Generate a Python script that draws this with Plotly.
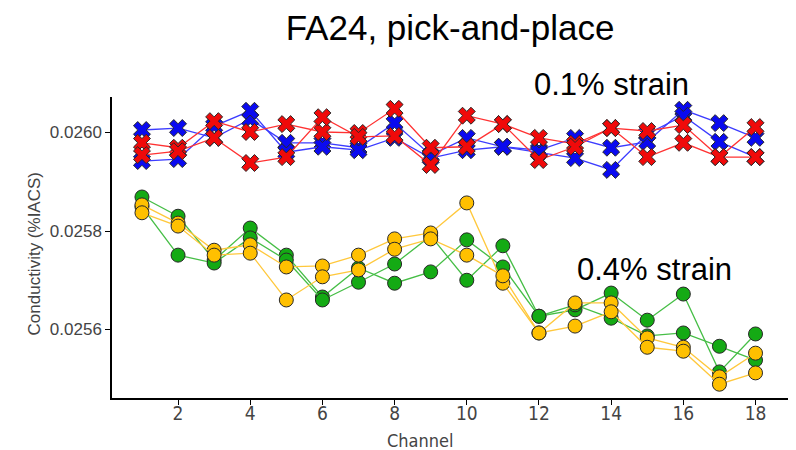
import plotly.graph_objects as go

channels = list(range(1, 19))

blue_1 = [0.026005, 0.026009, 0.025989, 0.026027, 0.025979, 0.025979, 0.025969, 0.026019, 0.025954,
          0.025989, 0.025971, 0.025964, 0.025989, 0.025969, 0.025981, 0.026046, 0.026019, 0.025989]
blue_2 = [0.025942, 0.025946, 0.026013, 0.026044, 0.025960, 0.025971, 0.025964, 0.025989, 0.025948,
          0.025964, 0.025971, 0.025960, 0.025948, 0.025924, 0.025997, 0.026034, 0.025981, 0.025950]
red_1 = [0.025979, 0.025969, 0.026023, 0.026001, 0.026017, 0.026001, 0.025999, 0.026048, 0.025969,
         0.025971, 0.026017, 0.025989, 0.025977, 0.026009, 0.026003, 0.026015, 0.025950, 0.026011]
red_2 = [0.025954, 0.025962, 0.025989, 0.025938, 0.025950, 0.026031, 0.025991, 0.025993, 0.025934,
         0.026034, 0.026017, 0.025944, 0.025971, 0.026009, 0.025950, 0.025979, 0.025950, 0.025950]
green_1 = [0.025869, 0.025830, 0.025741, 0.025806, 0.025751, 0.025666, 0.025725, 0.025694, 0.025717,
           0.025782, 0.025727, 0.025627, 0.025640, 0.025674, 0.025619, 0.025672, 0.025514, 0.025591]
green_2 = [0.025849, 0.025751, 0.025735, 0.025786, 0.025741, 0.025660, 0.025696, 0.025733, 0.025790,
           0.025700, 0.025770, 0.025627, 0.025650, 0.025623, 0.025587, 0.025593, 0.025566, 0.025538]
yellow_1 = [0.025853, 0.025816, 0.025761, 0.025772, 0.025727, 0.025729, 0.025751, 0.025784, 0.025796,
            0.025857, 0.025694, 0.025593, 0.025654, 0.025654, 0.025583, 0.025564, 0.025504, 0.025552]
yellow_2 = [0.025837, 0.025810, 0.025751, 0.025755, 0.025660, 0.025707, 0.025721, 0.025763, 0.025784,
            0.025751, 0.025709, 0.025593, 0.025607, 0.025636, 0.025564, 0.025556, 0.025489, 0.025512]

x_ticks = [2, 4, 6, 8, 10, 12, 14, 16, 18]
y_ticks = [0.0256, 0.0258, 0.0260]
y_tick_labels = ["0.0256", "0.0258", "0.0260"]

title_text = "FA24, pick-and-place"
x_title = "Channel"
y_title = "Conductivity (%IACS)"
label_low = "0.1% strain"
label_high = "0.4% strain"

series = [
    (green_1, "rgb(70,190,70)", "rgb(20,170,20)", "circle"),
    (green_2, "rgb(70,190,70)", "rgb(20,170,20)", "circle"),
    (yellow_1, "rgb(255,200,60)", "rgb(255,192,0)", "circle"),
    (yellow_2, "rgb(255,200,60)", "rgb(255,192,0)", "circle"),
    (blue_1, "rgb(60,60,255)", "rgb(10,10,240)", "x"),
    (blue_2, "rgb(60,60,255)", "rgb(10,10,240)", "x"),
    (red_1, "rgb(255,50,50)", "rgb(240,10,10)", "x"),
    (red_2, "rgb(255,50,50)", "rgb(240,10,10)", "x"),
]

fig = go.Figure()
for vals, lc, mc, sym in series:
    fig.add_trace(go.Scatter(
        x=channels, y=vals, mode="lines+markers",
        line=dict(color=lc, width=1.3),
        marker=dict(symbol=sym, size=15 if sym == "x" else 14, color=mc,
                    line=dict(color="rgb(40,40,40)", width=1)),
        showlegend=False, hoverinfo="skip",
    ))

font_main = "Liberation Sans, Arial, sans-serif"
font_tick = "Liberation Sans Narrow, DejaVu Sans Condensed, Arial Narrow, sans-serif"

# the page body adds an 8px offset; figure is sized so it fills the window exactly
fig.update_layout(
    width=788, height=442,
    margin=dict(l=104, r=8, t=89, b=52),
    paper_bgcolor="white", plot_bgcolor="white",
    title=dict(text=title_text, x=0.561, xanchor="center", y=0.955, yanchor="middle",
               font=dict(family=font_main, size=35, color="black")),
    xaxis=dict(range=[0.17, 18.9], tickvals=x_ticks, ticks="outside", ticklen=5,
               tickcolor="black", showline=True, linecolor="black", linewidth=1.5,
               showgrid=False, zeroline=False, mirror=False, ticklabelstandoff=-8,
               tickfont=dict(family=font_tick, size=19, color="#444")),
    yaxis=dict(range=[0.025461, 0.026072], tickvals=y_ticks, ticktext=y_tick_labels,
               ticks="outside", ticklen=5, tickcolor="black", showline=True,
               linecolor="black", linewidth=1.5, showgrid=False, zeroline=False,
               tickfont=dict(family=font_main, size=17, color="#444")),
    annotations=[
        dict(text=x_title, xref="paper", yref="paper", x=0.456, y=-0.14, xanchor="center",
             yanchor="middle", showarrow=False,
             font=dict(family=font_tick, size=18, color="#444")),
        dict(text=y_title, xref="paper", yref="paper", x=-0.114, y=0.48, xanchor="center",
             yanchor="middle", textangle=-90, showarrow=False,
             font=dict(family=font_main, size=17, color="#444")),
        dict(text=label_low, xref="x", yref="paper", x=14.02, y=1.04, xanchor="center",
             yanchor="middle", showarrow=False,
             font=dict(family=font_main, size=31, color="black")),
        dict(text=label_high, xref="x", yref="y", x=15.2, y=0.025721, xanchor="center",
             yanchor="middle", showarrow=False,
             font=dict(family=font_main, size=31, color="black")),
    ],
)

fig.write_html("out.html")
